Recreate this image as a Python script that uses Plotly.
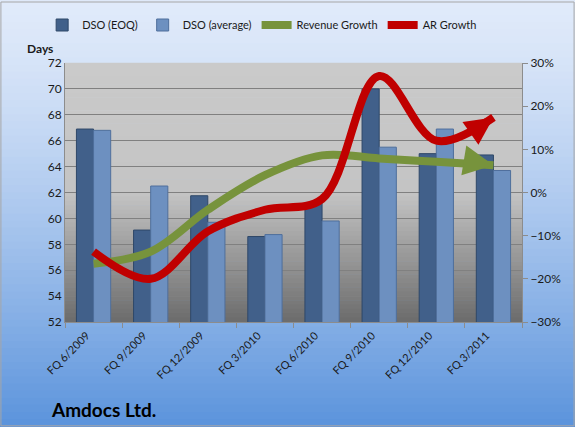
import plotly.graph_objects as go

quarters = ["FQ 6/2009", "FQ 9/2009", "FQ 12/2009", "FQ 3/2010",
            "FQ 6/2010", "FQ 9/2010", "FQ 12/2010", "FQ 3/2011"]
dso_eoq = [66.9, 59.1, 61.75, 58.6, 61.2, 70.0, 65.0, 64.9]
dso_avg = [66.8, 62.5, 59.7, 58.75, 59.8, 65.5, 66.9, 63.7]
revenue_growth = [-16.5, -13.7, -4.0, 4.0, 8.6, 7.9, 7.1, 6.3]
ar_growth = [-13.7, -20.0, -9.0, -4.0, -1.5, 27.0, 12.0, 17.4]

W, H = 575, 427
L, R, T, B = 65, 53, 62, 105
pw, ph = W - L - R, H - T - B


def lerp(c1, c2, f):
    return "rgb(%d,%d,%d)" % tuple(round(a + (b - a) * f) for a, b in zip(c1, c2))


shapes = []
# page background gradient (light at top, blue at bottom)
x0p, x1p = -L / pw, 1 + R / pw
y0p, y1p = -B / ph, 1 + T / ph
n = 60
for i in range(n):
    f = i / (n - 1)
    ya = y1p - (y1p - y0p) * i / n
    yb = y1p - (y1p - y0p) * (i + 1) / n
    shapes.append(dict(type="rect", xref="paper", yref="paper", x0=x0p - 0.01, x1=x1p + 0.01,
                       y0=yb - 0.002, y1=ya + 0.002, layer="below", line_width=0,
                       fillcolor=lerp((224, 234, 250), (92, 148, 220), f ** 1.3)))
# plot area gradient (grey)
for i in range(n):
    ya = 1 - i / n
    yb = 1 - (i + 1) / n
    mid = (ya + yb) / 2
    if mid > 0.5:
        c = lerp((202, 202, 202), (196, 196, 196), (1 - mid) * 2)
    else:
        c = lerp((108, 108, 108), (196, 196, 196), mid / 0.5)
    shapes.append(dict(type="rect", xref="paper", yref="paper", x0=0, x1=1,
                       y0=yb - 0.001, y1=ya + 0.001, layer="below", line_width=0, fillcolor=c))
# outer border
shapes.append(dict(type="rect", xref="paper", yref="paper", x0=x0p + 0.002, x1=x1p - 0.002,
                   y0=y0p + 0.003, y1=y1p - 0.003, layer="above",
                   line=dict(color="#a6a6a6", width=1)))

font = "Lato, 'Open Sans', sans-serif"

fig = go.Figure()
fig.add_trace(go.Bar(x=quarters, y=dso_eoq, name="DSO (EOQ)",
                     marker=dict(color="#41608a", line=dict(color="#2f4868", width=1))))
fig.add_trace(go.Bar(x=quarters, y=dso_avg, name="DSO (average)",
                     marker=dict(color="#6d90c0", line=dict(color="#4f6f9c", width=1))))

backoff = [0] * (len(quarters) - 1) + [15]
annotations = []
# (name, values, colour, arrow tail offset in px, head size)
for name, vals, col, ax, ay, hs in [("Revenue Growth", revenue_growth, "#77933c", -30, -5, 0.75),
                                    ("AR Growth", ar_growth, "#c00000", -23, 16, 0.7)]:
    fig.add_trace(go.Scatter(x=quarters, y=vals, name=name, yaxis="y2", mode="lines",
                             line=dict(color=col, width=8, shape="spline", smoothing=1.0,
                                       backoff=backoff)))
    # arrow head at the end of the curve
    annotations.append(dict(x=quarters[-1], y=vals[-1], xref="x", yref="y2", text="",
                            showarrow=True, arrowhead=2, arrowwidth=8, arrowsize=hs,
                            arrowcolor=col, ax=ax, ay=ay, standoff=0))

annotations += [
    dict(text="<b>Days</b>", xref="paper", yref="paper", x=-0.055, y=1 + 15 / ph,
         xanchor="center", yanchor="middle", showarrow=False, font=dict(size=12)),
    dict(text="<b>Amdocs Ltd.</b>", xref="paper", yref="paper", x=-0.035, y=-88 / ph,
         xanchor="left", yanchor="middle", showarrow=False, font=dict(size=19, color="#000")),
]

fig.update_layout(
    width=W, height=H,
    margin=dict(l=L, r=R, t=T, b=B),
    paper_bgcolor="#dfe9f9",
    plot_bgcolor="rgba(0,0,0,0)",
    font=dict(family=font, size=12, color="#1a1a1a"),
    barmode="group", bargap=0.4, bargroupgap=0.0,
    showlegend=True,
    legend=dict(orientation="h", x=-0.05, y=1 + 37 / ph, yanchor="middle", xanchor="left",
                bgcolor="rgba(0,0,0,0)", font=dict(size=11), itemwidth=30),
    shapes=shapes,
    xaxis=dict(type="category", tickangle=-45, tickfont=dict(size=11), showline=True,
               linecolor="#8c8c8c", ticks="outside", ticklen=5, tickcolor="#8c8c8c",
               tickson="boundaries", showgrid=False, automargin=False,
               ticklabelshift=-7, ticklabelstandoff=2),
    yaxis=dict(range=[52, 72], dtick=2, showgrid=True, gridcolor="#808080", gridwidth=1,
               showline=True, linecolor="#8c8c8c", ticks="", zeroline=False, automargin=False),
    yaxis2=dict(range=[-30, 30], dtick=10, overlaying="y", side="right", ticksuffix="%",
                showgrid=False, zeroline=False, showline=True, linecolor="#8c8c8c",
                ticks="outside", ticklen=5, tickcolor="#8c8c8c", automargin=False),
    annotations=annotations,
)

fig.write_html("out.html", config={"displayModeBar": False},
               post_script="document.body.style.margin='0';")
